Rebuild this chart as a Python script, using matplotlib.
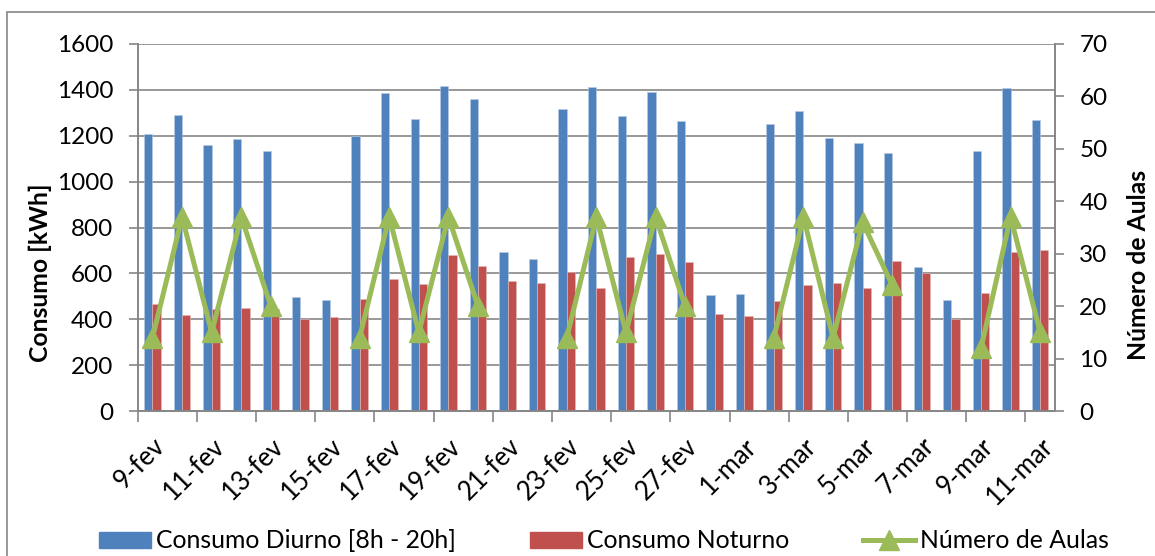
import numpy as np
import matplotlib
matplotlib.use("Agg")
import matplotlib.pyplot as plt
from matplotlib.lines import Line2D
from matplotlib.patches import Patch, Rectangle

plt.rcParams.update({"font.family": "Lato", "font.size": 17,
                     "text.color": "black", "xtick.color": "black", "ytick.color": "black"})

# dias de 9-fev a 11-mar
dias = ["9-fev", "10-fev", "11-fev", "12-fev", "13-fev", "14-fev", "15-fev", "16-fev",
        "17-fev", "18-fev", "19-fev", "20-fev", "21-fev", "22-fev", "23-fev", "24-fev",
        "25-fev", "26-fev", "27-fev", "28-fev", "1-mar", "2-mar", "3-mar", "4-mar",
        "5-mar", "6-mar", "7-mar", "8-mar", "9-mar", "10-mar", "11-mar"]

diurno = [1208, 1291, 1160, 1185, 1135, 498, 482, 1201, 1387, 1273, 1416,
          1362, 694, 662, 1318, 1414, 1285, 1389, 1265, 505, 508,
          1250, 1310, 1192, 1167, 1125, 627, 485, 1133, 1410, 1268]

noturno = [465, 420, 446, 449, 446, 401, 408, 488, 575, 552, 678,
           633, 568, 560, 608, 537, 672, 685, 649, 424, 412,
           478, 550, 560, 537, 656, 603, 399, 513, 693, 704]

# fins de semana sem aulas -> NaN (linha interrompida)
nan = np.nan
aulas = [14, 37, 15, 37, 20, nan, nan, 14, 37, 15, 37, 20, nan, nan,
         14, 37, 15, 37, 20, nan, nan, 14, 37, 14, 36, 24, nan, nan,
         12, 37, 15]

c_azul = "#4F81BD"
c_verm = "#C0504D"
c_verde = "#9BBB59"
c_cinza = "#868686"

fig = plt.figure(figsize=(11.55, 5.56), dpi=100)
ax = fig.add_axes([137.7 / 1155, 145 / 556, 917.3 / 1155, 367 / 556])
ax2 = ax.twinx()

x = np.arange(len(dias))
w = 0.28
ax.bar(x - w / 2, diurno, w, color=c_azul, edgecolor="#B9CDE5", linewidth=0.4, zorder=2)
ax.bar(x + w / 2, noturno, w, color=c_verm, edgecolor="#E6B9B8", linewidth=0.4, zorder=2)

ax2.plot(x, aulas, color=c_verde, lw=3.6, marker="^", ms=14, mec=c_verde, mfc=c_verde,
         solid_joinstyle="miter")

ax.set_xlim(-0.5, len(dias) - 0.5)
ax.set_ylim(0, 1600)
ax.set_yticks(range(0, 1601, 200))
ax2.set_ylim(0, 70)
ax2.set_yticks(range(0, 71, 10))

# marcas nos limites das categorias, rótulos de 2 em 2 dias
ax.set_xticks(np.arange(-0.5, len(dias) - 1, 2))
ax.set_xticklabels([])
ax.set_xticks(x[::2], minor=True)
ax.set_xticklabels(dias[::2], minor=True, rotation=45, ha="right", va="top",
                   rotation_mode="anchor", fontsize=18.5)
ax.tick_params(axis="x", which="major", length=8, width=1.2, color=c_cinza, direction="out")
ax.tick_params(axis="x", which="minor", length=0, pad=16)
ax.tick_params(axis="y", length=6.5, width=1.2, color=c_cinza, pad=11, labelsize=17.5)
ax2.tick_params(axis="y", length=6.5, width=1.2, color=c_cinza, pad=11, labelsize=17.5)

ax.grid(axis="y", color=c_cinza, lw=1.2, zorder=0)
ax.set_axisbelow(True)
for a in (ax, ax2):
    a.spines["top"].set_visible(False)
    for s in ("left", "right", "bottom"):
        a.spines[s].set_color(c_cinza)
        a.spines[s].set_linewidth(1.2)

fig.text(40 / 1155, 1 - 273 / 556, "Consumo [kWh]", rotation=90, ha="center", va="center",
         fontweight="bold", fontsize=17.8)
fig.text(1139 / 1155, 1 - 265 / 556, "Número de Aulas", rotation=90, ha="center", va="center",
         fontweight="bold", fontsize=17.8)

handles = [Patch(color=c_azul), Patch(color=c_verm),
           Line2D([], [], color=c_verde, lw=3.6, marker="^", ms=14)]
labels = ["Consumo Diurno [8h - 20h]", "Consumo Noturno", "Número de Aulas"]
fig.legend(handles, labels, loc="center", bbox_to_anchor=(604 / 1155, 1 - 541 / 556), ncol=3,
           frameon=False, handlelength=2.1, handleheight=0.65, handletextpad=0.2,
           columnspacing=3.0, fontsize=17.8, borderaxespad=0)

# moldura da área do gráfico
fig.patches.append(Rectangle((7 / 1155, -0.1), 1.2, 1.1 - 12 / 556, transform=fig.transFigure,
                             fill=False, edgecolor=c_cinza, lw=1.2))

fig.savefig("out.png", dpi=100)
